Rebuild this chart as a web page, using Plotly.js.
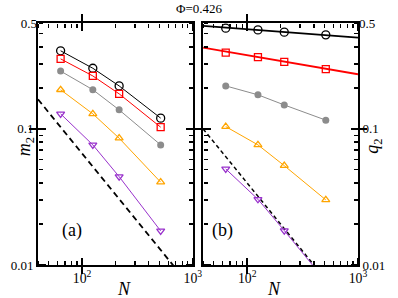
<!DOCTYPE html>
<html>
<head>
<meta charset="utf-8">
<script src="https://cdn.plot.ly/plotly-3.0.1.min.js"></script>
<style>html,body{margin:0;padding:0;background:#fff;}#chart{width:398px;height:298px;}</style>
</head>
<body>
<div id="chart"></div>
<script>
// ---- data ----
const N = [64, 125, 216, 512];
const m2Black  = [0.375, 0.279, 0.207, 0.120];
const m2Red    = [0.327, 0.245, 0.181, 0.103];
const m2Gray   = [0.266, 0.194, 0.138, 0.0763];
const m2Orange = [0.194, 0.129, 0.0855, 0.0406];
const m2Purple = [0.129, 0.0763, 0.0446, 0.0178];

const q2Black  = [0.550, 0.534, 0.514, 0.491];
const q2Red    = [0.364, 0.337, 0.311, 0.275];
const q2Gray   = [0.207, 0.178, 0.150, 0.116];
const q2Orange = [0.104, 0.0763, 0.0537, 0.0301];
const q2Purple = [0.0508, 0.0304, 0.0179, 0.0076];

const fitN = [40, 1000];
const q2BlackFit = [0.572, 0.469];
const q2RedFit   = [0.396, 0.252];

const guideN = [40, 1000];
const m2Guide = [0.165, 0.0066];
const q2Guide = [0.100, 0.0040];

const yTopTickVal = [0.6];
const yTopTickText = ['0.5'];
const titleText = 'Φ=0.426';

// ---- styling ----
const FONT = 'Liberation Serif';
const colors = {black: '#000000', red: '#ff0000', gray: '#8c8c8c', orange: '#ffa500', purple: '#9932cc'};
const XR = [Math.log10(40), 3];
const YR = [-2, Math.log10(0.6)];
const D1 = [0, 0.484], D2 = [0.516, 1];

function series(x, y, color, symbol, xa, ya, withLine, size) {
  const open = symbol.indexOf('open') >= 0;
  return {
    x: x, y: y, xaxis: xa, yaxis: ya, type: 'scatter',
    mode: withLine ? 'lines+markers' : 'markers',
    line: {color: color, width: 1},
    marker: {symbol: symbol, size: size, color: color, line: {color: color, width: open ? 1.3 : 0}},
    showlegend: false
  };
}
const carrier = (xa, ya) => ({x: [], y: [], xaxis: xa, yaxis: ya, mode: 'markers', showlegend: false, hoverinfo: 'skip'});

const traces = [
  // left panel
  {x: guideN, y: m2Guide, xaxis: 'x', yaxis: 'y', mode: 'lines', line: {color: '#000', width: 1.8, dash: '6px,4px'}, showlegend: false},
  series(N, m2Black, colors.black, 'circle-open', 'x', 'y', true, 8),
  series(N, m2Red, colors.red, 'square-open', 'x', 'y', true, 7),
  series(N, m2Gray, colors.gray, 'circle', 'x', 'y', true, 7),
  series(N, m2Orange, colors.orange, 'triangle-up-open', 'x', 'y', true, 7),
  series(N, m2Purple, colors.purple, 'triangle-down-open', 'x', 'y', true, 7),
  // right panel
  {x: guideN, y: q2Guide, xaxis: 'x2', yaxis: 'y2', mode: 'lines', line: {color: '#000', width: 1.5, dash: '4px,3px'}, showlegend: false},
  {x: fitN, y: q2BlackFit, xaxis: 'x2', yaxis: 'y2', mode: 'lines', line: {color: colors.black, width: 1.8}, showlegend: false},
  {x: fitN, y: q2RedFit, xaxis: 'x2', yaxis: 'y2', mode: 'lines', line: {color: colors.red, width: 1.8}, showlegend: false},
  series(N, q2Black, colors.black, 'circle-open', 'x2', 'y2', false, 8),
  series(N, q2Red, colors.red, 'square-open', 'x2', 'y2', false, 7),
  series(N, q2Gray, colors.gray, 'circle', 'x2', 'y2', true, 7),
  series(N, q2Orange, colors.orange, 'triangle-up-open', 'x2', 'y2', true, 7),
  series(N, q2Purple, colors.purple, 'triangle-down-open', 'x2', 'y2', true, 7),
  carrier('x', 'y3'), carrier('x2', 'y4')
];

const tickfont = {family: FONT, size: 13, color: '#000'};
const noGrid = {showgrid: false, zeroline: false};

function xMain(domain, anchor) {
  return Object.assign({type: 'log', domain: domain, anchor: anchor, range: XR, dtick: 1,
    ticks: 'inside', ticklen: 7, tickwidth: 1.5, tickcolor: '#000',
    exponentformat: 'power', showline: true, linecolor: '#000', linewidth: 2, mirror: 'allticks',
    tickfont: {family: FONT, size: 11, color: '#000'}}, noGrid);
}
function yMain(anchor, side) {
  return Object.assign({type: 'log', domain: [0, 1], anchor: anchor, side: side, range: YR, dtick: 1,
    ticks: 'inside', ticklen: 7, tickwidth: 1.5, tickcolor: '#000',
    showline: true, linecolor: '#000', linewidth: 2, mirror: 'allticks', tickfont: tickfont}, noGrid);
}
function yTopLabel(anchor, side, over) {
  return Object.assign({type: 'log', domain: [0, 1], anchor: anchor, side: side, overlaying: over, range: YR,
    tickmode: 'array', tickvals: yTopTickVal, ticktext: yTopTickText, ticks: '', showline: false,
    tickfont: tickfont}, noGrid);
}

const layout = {
  width: 398, height: 298,
  margin: {l: 38, r: 40, t: 23, b: 33},
  paper_bgcolor: '#fff', plot_bgcolor: '#fff',
  font: {family: FONT, color: '#000'},
  title: {text: titleText, font: {family: FONT, size: 13, color: '#000'}, x: 0.5, xanchor: 'center', y: 0.972, yanchor: 'middle', yref: 'container'},
  xaxis: xMain(D1, 'y'),
  yaxis: yMain('x', 'left'),
  xaxis2: xMain(D2, 'y2'),
  yaxis2: yMain('x2', 'right'),
  yaxis3: yTopLabel('x', 'left', 'y'),
  yaxis4: yTopLabel('x2', 'right', 'y2'),
  showlegend: false
};

// inward-pointing frame ticks: tick-only axes placed at each frame edge, facing into the panel
const tickSets = [{dtick: 'D1', len: 4, width: 1.2}, {dtick: 1, len: 7, width: 1.5}];
let xi = 3, yi = 5;
[{xm: 'x', ym: 'y', dom: D1}, {xm: 'x2', ym: 'y2', dom: D2}].forEach(p => {
  [[0, 'top'], [1, 'bottom']].forEach(([pos, side]) => {
    tickSets.forEach(ts => {
      const id = 'x' + xi;
      layout['xaxis' + xi] = Object.assign({type: 'log', domain: p.dom, range: XR, overlaying: p.xm, anchor: 'free',
        position: pos, side: side, ticks: 'outside', ticklen: ts.len, tickwidth: ts.width, tickcolor: '#000',
        dtick: ts.dtick, showticklabels: false, showline: false}, noGrid);
      traces.push(carrier(id, p.ym));
      xi++;
    });
  });
  [[p.dom[0], 'right'], [p.dom[1], 'left']].forEach(([pos, side]) => {
    tickSets.forEach(ts => {
      const id = 'y' + yi;
      layout['yaxis' + yi] = Object.assign({type: 'log', domain: [0, 1], range: YR, overlaying: p.ym, anchor: 'free',
        position: pos, side: side, ticks: 'outside', ticklen: ts.len, tickwidth: ts.width, tickcolor: '#000',
        dtick: ts.dtick, showticklabels: false, showline: false}, noGrid);
      traces.push(carrier(p.xm, id));
      yi++;
    });
  });
});

const titleFont = {family: FONT, size: 18, color: '#000'};
layout.annotations = [
  {text: '(a)', xref: 'paper', yref: 'paper', x: 0.069, y: 0.091, showarrow: false, font: titleFont},
  {text: '(b)', xref: 'paper', yref: 'paper', x: 0.575, y: 0.091, showarrow: false, font: titleFont},
  {text: '<i>N</i>', xref: 'paper', yref: 'paper', x: 0.24, y: -0.10, yanchor: 'middle', showarrow: false, font: titleFont},
  {text: '<i>N</i>', xref: 'paper', yref: 'paper', x: 0.766, y: -0.10, yanchor: 'middle', showarrow: false, font: titleFont},
  {text: '<i>m</i><sub>2</sub>', xref: 'paper', yref: 'paper', x: -0.08, y: 0.49, textangle: -90, showarrow: false, font: titleFont},
  {text: '<i>q</i><sub>2</sub>', xref: 'paper', yref: 'paper', x: 1.09, y: 0.49, textangle: -90, showarrow: false, font: titleFont}
];

Plotly.newPlot('chart', traces, layout, {staticPlot: true, displayModeBar: false});
</script>
</body>
</html>
